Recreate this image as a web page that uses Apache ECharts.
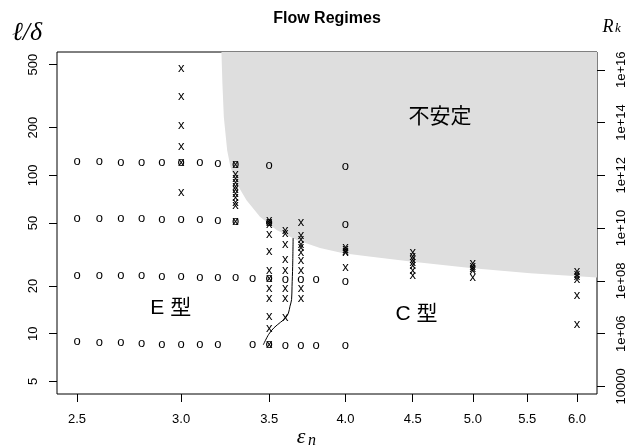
<!DOCTYPE html>
<html>
<head>
<meta charset="utf-8">
<script src="https://cdn.jsdelivr.net/npm/echarts@6/dist/echarts.min.js"></script>
<style>
html, body { margin: 0; padding: 0; background: #fff; }
#main { width: 635px; height: 448px; }
</style>
</head>
<body>
<div id="main"></div>
<script>
// axis ticks
var epsTicks = [2.5, 3.0, 3.5, 4.0, 4.5, 5.0, 5.5, 6.0];
var ratioTicks = [5, 10, 20, 50, 100, 200, 500];
var rkTicks = [4, 6, 8, 10, 12, 14, 16];   // log10(Rk)

// stable runs ("o")
var oEps = [2.5, 2.6, 2.7, 2.8, 2.9, 3.0, 3.1, 3.2, 3.3, 3.5, 4.0,
            2.5, 2.6, 2.7, 2.8, 2.9, 3.0, 3.1, 3.2, 3.3, 3.5, 4.0,
            2.5, 2.6, 2.7, 2.8, 2.9, 3.0, 3.1, 3.2, 3.3, 3.4, 3.5, 3.6, 3.7, 3.8, 4.0,
            2.5, 2.6, 2.7, 2.8, 2.9, 3.0, 3.1, 3.2, 3.4, 3.5, 3.6, 3.7, 3.8, 4.0];
var oRatio = [121, 121, 119.6, 119.6, 118.4, 118.4, 118.4, 116.8, 115, 114.4, 111.8,
              52.9, 52.9, 52.5, 52.5, 52.1, 51.6, 51.6, 51.2, 50.1, 49.7, 48.0,
              23.1, 23.1, 22.9, 22.9, 22.7, 22.6, 22.4, 22.4, 22.4, 21.9, 21.9, 21.7, 21.7, 21.6, 21.2,
              8.82, 8.74, 8.74, 8.61, 8.49, 8.49, 8.49, 8.41, 8.41, 8.37, 8.33, 8.3, 8.3, 8.25];

// unstable runs ("x")
var xEps = [3.0, 3.0, 3.0, 3.0, 3.0, 3.0,
            3.3, 3.3, 3.3, 3.3, 3.3, 3.3, 3.3, 3.3, 3.3, 3.3, 3.3,
            3.5, 3.5, 3.5, 3.5, 3.5, 3.5, 3.5, 3.5, 3.5, 3.5, 3.5, 3.5,
            3.6, 3.6, 3.6, 3.6, 3.6, 3.6, 3.6, 3.6,
            3.7, 3.7, 3.7, 3.7, 3.7, 3.7, 3.7, 3.7, 3.7, 3.7,
            4.0, 4.0, 4.0, 4.0, 4.0,
            4.5, 4.5, 4.5, 4.5, 4.5, 4.5, 4.5,
            5.0, 5.0, 5.0, 5.0, 5.0,
            6.0, 6.0, 6.0, 6.0, 6.0, 6.0];
var xRatio = [464, 311, 203, 151, 118.4, 77.4,
              115, 100, 94, 88.6, 84.4, 80.5, 76, 71.3, 66.9, 63.2, 50.1,
              51, 49.7, 48.3, 42, 32.7, 24.8, 21.9, 19.1, 16.4, 12.7, 10.7, 8.37,
              44.4, 42.4, 36.3, 29.2, 24.6, 19.1, 16.4, 12.5,
              49.7, 41.4, 38.6, 36.3, 34.3, 32.2, 28.5, 24.6, 19.1, 16.4,
              34.6, 33.6, 32.8, 32.0, 25.9,
              31.9, 30.3, 28.9, 27.9, 26.5, 24.6, 22.9,
              27.2, 26.3, 25.4, 24.6, 22.4,
              24.2, 23.4, 22.6, 21.6, 17.2, 11.2];

// edge of the unstable region
var edgeEps = [3.219, 3.225, 3.233, 3.252, 3.271, 3.306, 3.364, 3.444, 3.546, 3.673, 3.826, 3.985, 4.17, 4.5, 5.0, 5.53, 6.25];
var edgeRatio = [620, 377, 232.6, 143.6, 112.8, 88.7, 69.6, 54.7, 45.1, 39.0, 34.7, 32.2, 30.7, 28.5, 25.9, 24.1, 22.6];

// transition curve between E and C
var curveEps = [3.464, 3.497, 3.53, 3.57, 3.60, 3.62, 3.63, 3.64, 3.643, 3.647, 3.65];
var curveRatio = [8.5, 9.9, 10.9, 11.8, 12.5, 13.5, 14.9, 16.4, 19.9, 26.5, 40.2];

// region names
var regionNames = ['不安定', 'E 型', 'C 型'];
var regionEps = [4.72, 2.946, 4.53];
var regionRatio = [232, 14.4, 13.2];

var lg = Math.log10;
var epsMin = lg(2.5) - 0.04 * (lg(6) - lg(2.5));
var epsMax = lg(6) + 0.04 * (lg(6) - lg(2.5));
var rMin = lg(5) - 0.04 * 2;
var rMax = lg(500) + 0.04 * 2;

function pairs(ex, ry) {
    return ex.map(function (e, i) { return [lg(e), lg(ry[i])]; });
}

function glyphSeries(ex, ry, ch) {
    return {
        type: 'custom',
        silent: true,
        z: 3,
        encode: { x: 0, y: 1 },
        data: pairs(ex, ry),
        renderItem: function (params, api) {
            var p = api.coord([api.value(0), api.value(1)]);
            return {
                type: 'text',
                x: p[0], y: p[1] - 1,
                style: {
                    text: ch, fill: '#000',
                    font: '13px "Liberation Sans", Arial, sans-serif',
                    align: 'center', verticalAlign: 'middle'
                }
            };
        }
    };
}

var fmtRk = function (v) {
    v = Math.round(v);
    if (v === 4) return '10000';
    return '1e+' + (v < 10 ? '0' + v : v);
};

var axisFont = { color: '#000', fontSize: 13, fontFamily: '"Liberation Sans", Arial, sans-serif' };

var myChart = echarts.init(document.getElementById('main'));

var option = {
    backgroundColor: '#fff',
    animation: false,
    grid: {
        left: 57, right: 38, top: 52, bottom: 54,
        show: true, borderColor: '#000', borderWidth: 1,
        backgroundColor: 'transparent',
        containLabel: false,
        outerBoundsMode: 'none'
    },
    xAxis: {
        type: 'value',
        min: epsMin, max: epsMax,
        axisLine: { show: false },
        splitLine: { show: false },
        axisTick: {
            show: true, length: 8, inside: false,
            customValues: epsTicks.map(lg),
            lineStyle: { color: '#000' }
        },
        axisLabel: Object.assign({
            customValues: epsTicks.map(lg),
            margin: 19,
            formatter: function (v) { return Math.pow(10, v).toFixed(1); }
        }, axisFont)
    },
    yAxis: [{
        type: 'value',
        min: rMin, max: rMax,
        axisLine: { show: false },
        splitLine: { show: false },
        axisTick: {
            show: true, length: 8, inside: false,
            customValues: ratioTicks.map(lg),
            lineStyle: { color: '#000' }
        },
        axisLabel: Object.assign({
            customValues: ratioTicks.map(lg),
            rotate: 90,
            margin: 17,
            formatter: function (v) { return String(Math.round(Math.pow(10, v))); }
        }, axisFont)
    }, {
        type: 'value',
        position: 'right',
        min: 6 * rMin, max: 6 * rMax,
        axisLine: { show: false },
        splitLine: { show: false },
        axisTick: {
            show: true, length: 8, inside: false,
            customValues: rkTicks,
            lineStyle: { color: '#000' }
        },
        axisLabel: Object.assign({
            customValues: rkTicks,
            rotate: 90,
            margin: 18,
            formatter: fmtRk
        }, axisFont)
    }],
    graphic: [
        { type: 'text', x: 327, y: 19, style: { text: 'Flow Regimes', fill: '#000', font: 'bold 16px "Liberation Sans", Arial, sans-serif', align: 'center', verticalAlign: 'middle' } },
        { type: 'text', x: 27, y: 33, style: { text: 'ℓ/δ', fill: '#000', font: 'italic 26px "Liberation Serif", "DejaVu Serif", serif', align: 'center', verticalAlign: 'middle' } },
        { type: 'text', x: 608, y: 27, style: { text: 'R', fill: '#000', font: 'italic 18px "Liberation Serif", serif', align: 'center', verticalAlign: 'middle' } },
        { type: 'text', x: 618, y: 29, style: { text: 'k', fill: '#000', font: 'italic 13px "Liberation Serif", serif', align: 'center', verticalAlign: 'middle' } },
        { type: 'text', x: 301, y: 437, style: { text: 'ε', fill: '#000', font: 'italic 22px "Liberation Serif", "DejaVu Serif", serif', align: 'center', verticalAlign: 'middle' } },
        { type: 'text', x: 312, y: 441, style: { text: 'n', fill: '#000', font: 'italic 16px "Liberation Serif", serif', align: 'center', verticalAlign: 'middle' } }
    ],
    series: [
        {
            type: 'custom',
            silent: true,
            clip: true,
            z: 1,
            encode: { x: 0, y: 1 },
            data: [[lg(4), lg(100)]],
            renderItem: function (params, api) {
                var pts = pairs(edgeEps, edgeRatio).map(function (d) { return api.coord(d); });
                var cs = params.coordSys;
                var first = pts[0], last = pts[pts.length - 1];
                pts.push([cs.x + cs.width + 2, last[1]]);
                pts.push([cs.x + cs.width + 2, cs.y - 2]);
                pts.push([first[0], cs.y - 2]);
                return { type: 'polygon', shape: { points: pts }, style: { fill: '#dedede' } };
            }
        },
        {
            type: 'line',
            data: pairs(curveEps, curveRatio),
            symbol: 'none',
            smooth: 0.3,
            z: 2,
            lineStyle: { color: '#000', width: 1 }
        },
        glyphSeries(oEps, oRatio, 'o'),
        glyphSeries(xEps, xRatio, 'x'),
        {
            type: 'custom',
            silent: true,
            z: 4,
            encode: { x: 0, y: 1 },
            data: pairs(regionEps, regionRatio),
            renderItem: function (params, api) {
                var p = api.coord([api.value(0), api.value(1)]);
                return {
                    type: 'text',
                    x: p[0], y: p[1],
                    style: {
                        text: regionNames[params.dataIndex], fill: '#000',
                        font: '21px "Liberation Sans", "Noto Sans CJK JP", sans-serif',
                        align: 'center', verticalAlign: 'middle'
                    }
                };
            }
        }
    ]
};

myChart.setOption(option);
</script>
</body>
</html>
